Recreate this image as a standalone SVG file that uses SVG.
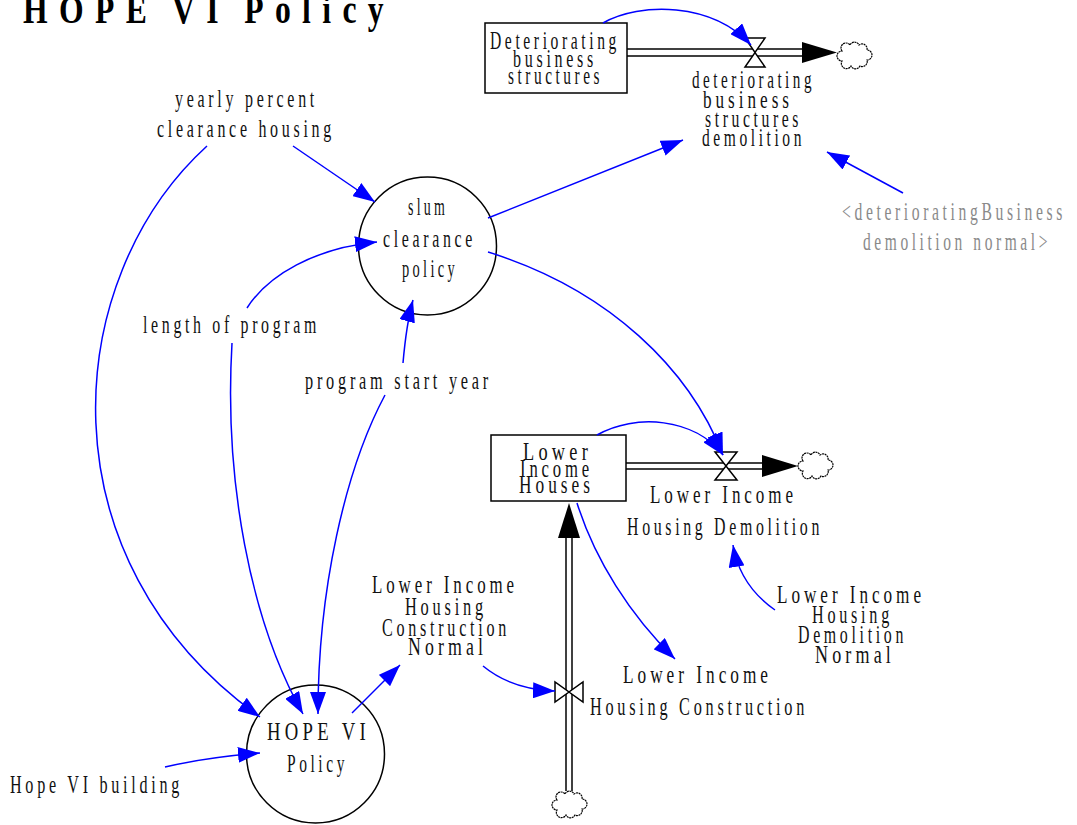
<svg xmlns="http://www.w3.org/2000/svg" width="1077" height="825" viewBox="0 0 1077 825">
  <style>
    .t { font-family: "Liberation Serif", "Times New Roman", serif; font-size: 26px; letter-spacing: 6px; fill: #111; }
    .g { fill: #8a8a8a; }
    .title { font-family: "Liberation Serif", "Times New Roman", serif; font-size: 39px; font-weight: bold; letter-spacing: 14px; word-spacing: -6px; fill: #000; }
    .node { fill: #fff; stroke: #000; stroke-width: 1.5; }
    .pipe { fill: none; stroke: #000; stroke-width: 1.5; }
    .head { fill: #000; }
    .valve { fill: #fff; stroke: #000; stroke-width: 1.5; }
    .cloud { fill: #fff; stroke: #000; stroke-width: 1.2; stroke-dasharray: 2 0.6; }
    .link { fill: none; stroke: #0000ff; stroke-width: 1.5; marker-end: url(#arrow); }
  </style>
  <defs>
    <marker id="arrow" markerUnits="userSpaceOnUse" markerWidth="22" markerHeight="16" refX="22" refY="8" orient="auto">
      <path d="M0,0 L22,8 L0,16 z" fill="#0000ff"/>
    </marker>
    <path id="cloud" d="M5,10 a5,5 0 0 1 8,-6 a5,5 0 0 1 9,0 a5,5 0 0 1 8,5 a5,5 0 0 1 0,10 a5,5 0 0 1 -7,6 a5,5 0 0 1 -9,0 a5,5 0 0 1 -9,-5 a5,5 0 0 1 0,-10 z"/>
  </defs>

  <rect width="1077" height="825" fill="#fff"/>

  <!-- title -->
  <text class="title" x="23" y="23" textLength="372" lengthAdjust="spacingAndGlyphs">HOPE VI Policy</text>

  <!-- flow: deteriorating business structures demolition -->
  <g id="flow-dbs-demolition">
    <line class="pipe" x1="627" y1="49" x2="803" y2="49"/>
    <line class="pipe" x1="627" y1="56" x2="803" y2="56"/>
    <polygon class="head" points="802,42 837,52.5 802,63"/>
    <use href="#cloud" class="cloud" transform="translate(837,41)"/>
    <polygon class="valve" points="745,38 765,38 755,52.5"/>
    <polygon class="valve" points="745,67 765,67 755,52.5"/>
    <text class="t" x="692" y="88" textLength="123" lengthAdjust="spacingAndGlyphs">deteriorating</text>
    <text class="t" x="703" y="108" textLength="90" lengthAdjust="spacingAndGlyphs">business</text>
    <text class="t" x="705" y="127" textLength="97" lengthAdjust="spacingAndGlyphs">structures</text>
    <text class="t" x="702" y="146" textLength="103" lengthAdjust="spacingAndGlyphs">demolition</text>
  </g>

  <!-- stock: Deteriorating business structures -->
  <g id="stock-dbs">
    <rect class="node" x="485" y="23" width="142" height="70"/>
    <text class="t" x="490" y="49" textLength="130" lengthAdjust="spacingAndGlyphs">Deteriorating</text>
    <text class="t" x="513" y="67" textLength="84" lengthAdjust="spacingAndGlyphs">business</text>
    <text class="t" x="508" y="84" textLength="95" lengthAdjust="spacingAndGlyphs">structures</text>
  </g>

  <!-- shadow variable -->
  <g id="shadow-dbs-normal">
    <text class="t g" x="842" y="220" textLength="224" lengthAdjust="spacingAndGlyphs">&lt;deterioratingBusiness</text>
    <text class="t g" x="863" y="250" textLength="188" lengthAdjust="spacingAndGlyphs">demolition normal&gt;</text>
  </g>

  <g id="yearly-percent">
    <text class="t" x="175" y="107" textLength="143" lengthAdjust="spacingAndGlyphs">yearly percent</text>
    <text class="t" x="157" y="137" textLength="178" lengthAdjust="spacingAndGlyphs">clearance housing</text>
  </g>

  <g id="slum-clearance-policy">
    <circle class="node" cx="427.5" cy="246" r="69"/>
    <text class="t" x="408" y="215" textLength="40" lengthAdjust="spacingAndGlyphs">slum</text>
    <text class="t" x="383" y="247" textLength="93" lengthAdjust="spacingAndGlyphs">clearance</text>
    <text class="t" x="402" y="277" textLength="56" lengthAdjust="spacingAndGlyphs">policy</text>
  </g>

  <g id="length-of-program">
    <text class="t" x="143" y="333" textLength="177" lengthAdjust="spacingAndGlyphs">length of program</text>
  </g>

  <g id="program-start-year">
    <text class="t" x="305" y="389" textLength="187" lengthAdjust="spacingAndGlyphs">program start year</text>
  </g>

  <g id="hope-vi-policy">
    <circle class="node" cx="315.5" cy="754" r="69"/>
    <text class="t" x="267" y="740" textLength="103" lengthAdjust="spacingAndGlyphs">HOPE VI</text>
    <text class="t" x="287" y="772" textLength="61" lengthAdjust="spacingAndGlyphs">Policy</text>
  </g>

  <g id="hope-vi-building">
    <text class="t" x="10" y="793" textLength="173" lengthAdjust="spacingAndGlyphs">Hope VI building</text>
  </g>

  <g id="construction-normal">
    <text class="t" x="372" y="593" textLength="146" lengthAdjust="spacingAndGlyphs">Lower Income</text>
    <text class="t" x="405" y="615" textLength="82" lengthAdjust="spacingAndGlyphs">Housing</text>
    <text class="t" x="382" y="636" textLength="128" lengthAdjust="spacingAndGlyphs">Construction</text>
    <text class="t" x="408" y="655" textLength="79" lengthAdjust="spacingAndGlyphs">Normal</text>
  </g>

  <!-- flow: Lower Income Housing Construction -->
  <g id="flow-construction">
    <line class="pipe" x1="566" y1="537" x2="566" y2="791"/>
    <line class="pipe" x1="572" y1="537" x2="572" y2="791"/>
    <polygon class="head" points="558,538 569,503 580,538"/>
    <use href="#cloud" class="cloud" transform="translate(552,790)"/>
    <polygon class="valve" points="555,682 555,702 569,692"/>
    <polygon class="valve" points="583,682 583,702 569,692"/>
    <text class="t" x="623" y="683" textLength="149" lengthAdjust="spacingAndGlyphs">Lower Income</text>
    <text class="t" x="590" y="715" textLength="218" lengthAdjust="spacingAndGlyphs">Housing Construction</text>
  </g>

  <!-- flow: Lower Income Housing Demolition -->
  <g id="flow-demolition">
    <line class="pipe" x1="626" y1="463" x2="763" y2="463"/>
    <line class="pipe" x1="626" y1="469" x2="763" y2="469"/>
    <polygon class="head" points="762,455 798,466 762,477"/>
    <use href="#cloud" class="cloud" transform="translate(798,451)"/>
    <polygon class="valve" points="715,452 737,452 726,466"/>
    <polygon class="valve" points="715,480 737,480 726,466"/>
    <text class="t" x="650" y="503" textLength="147" lengthAdjust="spacingAndGlyphs">Lower Income</text>
    <text class="t" x="627" y="535" textLength="196" lengthAdjust="spacingAndGlyphs">Housing Demolition</text>
  </g>

  <!-- stock: Lower Income Houses -->
  <g id="stock-lower-income-houses">
    <rect class="node" x="491" y="435" width="135" height="66"/>
    <text class="t" x="523" y="460" textLength="69" lengthAdjust="spacingAndGlyphs">Lower</text>
    <text class="t" x="520" y="477" textLength="73" lengthAdjust="spacingAndGlyphs">Income</text>
    <text class="t" x="519" y="493" textLength="75" lengthAdjust="spacingAndGlyphs">Houses</text>
  </g>

  <g id="demolition-normal">
    <text class="t" x="777" y="603" textLength="148" lengthAdjust="spacingAndGlyphs">Lower Income</text>
    <text class="t" x="812" y="623" textLength="81" lengthAdjust="spacingAndGlyphs">Housing</text>
    <text class="t" x="798" y="643" textLength="109" lengthAdjust="spacingAndGlyphs">Demolition</text>
    <text class="t" x="815" y="663" textLength="80" lengthAdjust="spacingAndGlyphs">Normal</text>
  </g>

  <!-- connectors, drawn last so arrowheads sit over node outlines -->
  <g id="connectors">
    <path class="link" d="M207,146 C60,280 40,560 260,717"/>
    <path class="link" d="M293,146 L375,202"/>
    <path class="link" d="M247,308 C268,275 315,248 377,242"/>
    <path class="link" d="M232,343 C224,480 250,620 303,714"/>
    <path class="link" d="M403,363 C405,340 408,318 413,300"/>
    <path class="link" d="M385,395 C345,470 318,590 318,714"/>
    <path class="link" d="M165,767 C195,760 225,756 260,753"/>
    <path class="link" d="M352,713 L400,665"/>
    <path class="link" d="M483,666 C500,680 525,690 555,691"/>
    <path class="link" d="M488,218 L683,140"/>
    <path class="link" d="M903,193 L827,152"/>
    <path class="link" d="M603,23 C640,2 712,2 751,45"/>
    <path class="link" d="M488,252 C610,290 690,370 723,455"/>
    <path class="link" d="M597,435 C635,413 695,418 723,455"/>
    <path class="link" d="M577,503 C595,560 630,615 675,659"/>
    <path class="link" d="M775,610 C755,596 738,575 733,545"/>
  </g>
</svg>
